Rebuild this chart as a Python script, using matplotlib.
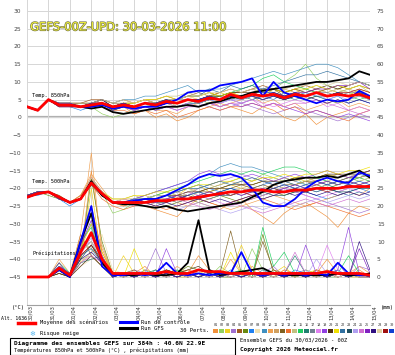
import matplotlib
matplotlib.use("Agg")
import matplotlib.pyplot as plt
import matplotlib.patheffects as pe
from matplotlib.patches import Rectangle
from matplotlib.lines import Line2D
from matplotlib.transforms import ScaledTranslation
import numpy as np

# echeances toutes les 12h sur 384h
hours = list(range(0, 385, 12))
dates = ["30/03", "31/03", "01/04", "02/04", "03/04", "04/04", "05/04", "06/04", "07/04",
         "08/04", "09/04", "10/04", "11/04", "12/04", "13/04", "14/04", "15/04"]

pert_colors = ["#f0903a", "#90d060", "#f0d020", "#a070d0", "#a05a20", "#6a8a10", "#2080f0", "#f0e0b0",
               "#4090c0", "#f0a050", "#d0a060", "#806020", "#f07030", "#c0c080", "#20d060", "#208070",
               "#708090", "#e080f0", "#9040e0", "#503010", "#f0e000", "#3070a0", "#205060", "#b0a0f0",
               "#d070d0", "#8020c0", "#301080", "#e0d0a0", "#a01010", "#1040d0"]

# temperature 850hPa
t850_mean = [3,2,5,3.5,3.5,3,3.5,4,3, 3.5,3,4,3.5,4.5,4,5,4.5, 5.5,5,6.5,5.5,6.5,6,6.5,5.5, 6.5,6,7,6,6.5,6,6.5,5.5]
t850_gfs = [3,2,5,3.5,3.5,3,2.5,3,1.5, 1,1.5,2,2.5,3,3,3.5,3, 4,4.5,5.5,6,7,7.5,8,8.5, 9,9.5,10,10,10.5,11,13,12]
t850_ctrl = [3,2,5,3.5,3.5,3,3,3.5,2.5, 3,2.5,3,3,4,5,7,7.5, 7.5,9,9.5,10,11,6,10,7, 6,5,4,5,4.5,5,7.5,6]
t850_perts = [
    [3,2,5,4,3,3,4,4,2, 3,1,2,0,1,-1,0,2, 3,4,3,2,1,3,2,0, -1,1,-2,0,1,2,3,2],
    [3,2,5,4,4,3,3,1,0, 1,2,3,4,5,3,4,5, 4,5,6,8,9,7,8,10, 12,15,11,9,8,7,6,5],
    [3,2,5,3,4,3,3,4,3, 4,4,5,4,5,5,6,5, 6,7,6,5,7,6,8,7, 8,6,7,8,7,6,8,7],
    [3,2,5,3,3,3,4,3,2, 3,2,3,3,4,4,5,4, 3,2,3,4,3,2,1,2, 3,2,1,0,-1,0,1,0],
    [3,2,5,4,4,4,5,5,4, 5,4,5,5,6,5,6,7, 6,7,8,7,8,9,8,7, 8,9,8,7,8,9,10,9],
    [3,2,5,3,3,3,3,4,3, 3,3,4,3,4,3,4,4, 5,5,6,5,6,5,6,5, 6,5,6,5,4,5,6,5],
    [3,2,5,3,3,2,3,3,2, 3,2,3,2,3,3,4,4, 5,4,5,4,5,6,5,7, 6,7,6,5,6,4,5,4],
    [3,2,5,4,4,3,4,4,3, 4,3,4,4,5,5,6,5, 6,5,6,6,7,6,7,6, 7,7,8,7,8,7,8,6],
    [3,2,5,4,4,3,4,5,4, 5,5,6,6,7,8,9,7, 8,8,9,10,11,12,13,12, 13,14,15,15,14,12,10,9],
    [3,2,5,4,3,3,3,4,2, 3,2,3,2,2,1,3,4, 5,3,4,5,6,4,5,3, 4,2,3,4,5,3,4,3],
    [3,2,5,3,4,3,4,4,3, 4,4,5,4,5,4,5,5, 6,6,7,6,7,7,6,8, 7,8,7,6,7,8,7,6],
    [3,2,5,4,4,4,4,5,4, 4,4,5,4,5,5,6,6, 7,6,7,7,8,7,8,6, 7,6,7,8,9,8,9,8],
    [3,2,5,3,3,3,3,3,2, 2,1,2,1,2,0,1,2, 3,2,3,3,4,3,4,2, 3,1,2,1,0,-1,1,2],
    [3,2,5,4,3,4,4,5,3, 4,4,5,5,6,6,7,6, 7,5,6,6,7,8,7,8, 9,8,9,8,7,8,9,7],
    [3,2,5,3,4,3,4,4,3, 4,3,4,4,5,4,5,5, 6,6,7,8,9,11,12,10, 9,8,7,6,7,6,5,6],
    [3,2,5,4,4,3,3,4,3, 3,3,4,3,4,4,5,4, 5,6,5,6,5,6,7,6, 5,6,7,6,7,6,7,6],
    [3,2,5,3,3,3,4,4,3, 4,3,4,4,4,5,5,5, 6,5,6,5,6,6,6,5, 6,6,7,7,6,7,7,6],
    [3,2,5,4,4,3,4,4,3, 3,2,3,3,4,3,4,3, 4,4,5,4,5,4,3,4, 5,4,5,3,4,2,3,2],
    [3,2,5,3,3,3,3,4,2, 3,2,3,2,3,2,3,3, 4,3,4,3,4,3,4,3, 2,1,2,1,0,1,0,-1],
    [3,2,5,4,4,4,4,5,3, 4,3,4,4,5,4,5,5, 6,6,7,7,7,8,8,7, 8,7,8,9,8,9,10,9],
    [3,2,5,4,4,3,4,4,3, 4,4,5,5,6,5,6,6, 7,6,7,6,7,7,8,7, 8,8,9,8,9,8,9,8],
    [3,2,5,3,4,3,4,4,3, 4,3,4,4,5,5,6,6, 8,7,9,8,9,8,9,10, 11,12,12,13,12,11,10,9],
    [3,2,5,4,3,3,3,4,2, 3,3,4,3,4,4,5,4, 5,5,6,5,6,5,6,5, 6,5,6,6,7,6,7,6],
    [3,2,5,3,3,3,4,4,3, 4,3,4,3,4,4,5,4, 5,4,5,5,6,5,6,6, 7,6,7,5,6,5,6,5],
    [3,2,5,4,4,3,4,4,3, 4,3,4,3,3,2,3,3, 4,3,4,4,5,3,4,3, 4,4,5,4,3,2,1,2],
    [3,2,5,3,3,3,4,4,3, 3,3,3,3,4,4,5,5, 6,5,6,6,7,6,7,6, 7,7,8,8,9,9,10,8],
    [3,2,5,4,4,3,4,5,3, 4,3,4,3,4,4,5,5, 6,5,6,6,6,5,6,5, 6,6,5,4,5,4,5,4],
    [3,2,5,4,4,4,4,5,4, 5,4,5,4,5,5,6,6, 7,7,8,7,8,7,8,8, 9,9,10,9,10,9,10,9],
    [3,2,5,3,3,3,4,4,3, 4,3,4,4,5,4,5,5, 5,5,6,6,7,6,7,6, 7,6,7,6,7,7,8,7],
    [3,2,5,4,4,3,4,4,3, 4,3,4,4,5,4,5,5, 6,5,6,6,7,7,7,6, 7,6,7,6,7,6,7,5],
]

# temperature 500hPa
t500_mean = [-22.5,-21.5,-21,-22.5,-24,-23,-18.5,-21.5,-24, -24,-24,-24,-23.5,-23.5,-23,-23,-22.5,
             -22,-21.5,-21,-21,-20.5,-20.5,-21,-21, -20.5,-20.5,-20,-20,-20,-19.5,-19.5,-19.5]
t500_gfs = [-22.5,-21.5,-21,-22.5,-24,-23,-18,-22,-24, -24.5,-24.5,-25,-25.5,-25,-26,-26.5,-26,
            -25.5,-25,-24.5,-24,-22.5,-21,-19,-18, -17.5,-17,-17,-16.5,-17,-16,-15,-17]
t500_ctrl = [-22.5,-21.5,-21,-22.5,-24,-23,-18.5,-21.5,-24, -24,-23.5,-23,-23,-22,-20.5,-19,-17,
             -16,-16.5,-16,-17,-20,-24,-25,-25, -23,-20,-18,-17,-18,-18.5,-15.5,-16.5]
t500_perts = [
    [-22,-21,-21,-23,-24,-22,-17,-22,-24, -25,-24,-25,-26,-27,-28,-25,-24, -25,-26,-24,-23,-26,-28,-30,-27, -25,-24,-26,-28,-31,-27,-25,-26],
    [-22,-21,-21,-22,-24,-23,-18,-21,-27, -26,-24,-24,-23,-24,-22,-23,-21, -20,-19,-18,-17,-18,-16,-17,-18, -17,-19,-18,-17,-16,-17,-18,-17],
    [-22,-21,-21,-23,-24,-23,-17,-21,-24, -24,-23,-23,-22,-21,-22,-20,-19, -21,-20,-19,-20,-19,-18,-19,-18, -17,-18,-17,-16,-17,-16,-15,-16],
    [-23,-21,-21,-23,-24,-23,-19,-22,-24, -24,-25,-24,-23,-22,-21,-22,-20, -19,-18,-17,-16,-17,-18,-19,-20, -21,-22,-23,-24,-25,-26,-27,-26],
    [-22,-21,-21,-22,-24,-22,-18,-21,-24, -23,-24,-23,-24,-23,-22,-23,-22, -21,-22,-21,-20,-21,-20,-19,-20, -19,-18,-19,-18,-19,-18,-17,-16],
    [-22,-21,-22,-23,-24,-23,-19,-22,-24, -24,-24,-23,-24,-25,-24,-23,-24, -23,-22,-23,-24,-23,-22,-21,-22, -21,-20,-19,-20,-19,-18,-19,-18],
    [-22,-22,-21,-23,-25,-23,-18,-22,-24, -24,-23,-24,-23,-22,-21,-20,-19, -20,-21,-22,-21,-20,-19,-18,-19, -20,-21,-22,-23,-22,-21,-20,-21],
    [-22,-21,-21,-23,-24,-23,-17,-21,-23, -23,-24,-23,-22,-23,-22,-21,-22, -21,-20,-21,-20,-19,-20,-19,-20, -21,-20,-19,-18,-19,-18,-17,-18],
    [-22,-21,-21,-23,-24,-23,-18,-21,-24, -24,-23,-22,-21,-20,-19,-18,-17, -16,-14,-13,-14,-14,-15,-16,-17, -18,-19,-20,-19,-18,-17,-16,-17],
    [-22,-21,-21,-23,-24,-22,-16,-20,-24, -25,-24,-25,-24,-23,-24,-25,-23, -24,-25,-26,-25,-24,-23,-22,-23, -24,-25,-24,-23,-22,-21,-22,-20],
    [-22,-21,-21,-23,-24,-23,-17,-22,-24, -23,-23,-22,-23,-22,-21,-20,-21, -20,-19,-18,-19,-18,-17,-18,-17, -18,-17,-18,-17,-16,-17,-16,-15],
    [-22,-21,-21,-23,-24,-23,-18,-22,-24, -24,-24,-24,-23,-23,-22,-22,-21, -21,-20,-20,-19,-20,-19,-20,-19, -19,-18,-18,-19,-18,-17,-17,-16],
    [-22,-21,-21,-23,-24,-23,-19,-23,-25, -26,-25,-24,-25,-26,-25,-24,-23, -24,-25,-24,-23,-22,-23,-24,-25, -26,-25,-24,-25,-26,-27,-28,-27],
    [-22,-21,-21,-23,-24,-23,-18,-21,-23, -23,-22,-23,-22,-21,-22,-21,-20, -19,-20,-19,-18,-19,-18,-17,-18, -19,-18,-17,-18,-17,-16,-17,-16],
    [-22,-21,-21,-23,-24,-23,-18,-22,-24, -24,-23,-23,-22,-21,-20,-19,-18, -17,-16,-15,-16,-15,-16,-15,-14, -14,-15,-17,-18,-19,-18,-17,-18],
    [-22,-21,-21,-23,-24,-23,-19,-22,-24, -24,-24,-23,-23,-22,-23,-22,-21, -22,-21,-20,-21,-20,-21,-20,-21, -20,-21,-20,-19,-20,-19,-20,-19],
    [-22,-21,-21,-23,-24,-23,-18,-22,-24, -24,-24,-24,-24,-23,-24,-23,-22, -23,-22,-21,-22,-21,-22,-21,-20, -21,-20,-21,-20,-21,-20,-19,-20],
    [-22,-21,-21,-23,-24,-23,-18,-22,-24, -23,-24,-23,-24,-23,-22,-21,-22, -23,-24,-25,-24,-23,-22,-21,-20, -21,-22,-23,-22,-21,-20,-21,-22],
    [-22,-21,-21,-23,-24,-23,-17,-21,-24, -24,-23,-22,-21,-20,-19,-18,-16, -15,-16,-16,-17,-16,-17,-18,-17, -16,-17,-16,-15,-16,-17,-16,-15],
    [-22,-21,-21,-23,-24,-23,-18,-22,-24, -24,-24,-23,-23,-22,-22,-21,-21, -20,-20,-19,-19,-19,-18,-18,-18, -17,-17,-17,-16,-16,-16,-16,-15],
    [-22,-21,-21,-23,-24,-23,-17,-21,-23, -23,-22,-22,-21,-21,-20,-20,-19, -19,-18,-18,-17,-18,-17,-17,-16, -17,-16,-16,-15,-16,-15,-15,-14],
    [-22,-21,-21,-23,-24,-23,-18,-22,-24, -24,-23,-23,-22,-22,-21,-20,-20, -19,-18,-19,-18,-17,-18,-19,-18, -19,-20,-21,-20,-21,-22,-21,-22],
    [-22,-21,-21,-23,-24,-23,-18,-22,-24, -24,-24,-24,-24,-24,-23,-23,-23, -22,-22,-22,-21,-21,-21,-22,-22, -21,-21,-20,-20,-21,-21,-20,-20],
    [-22,-21,-21,-23,-24,-23,-18,-22,-24, -24,-24,-25,-24,-25,-26,-25,-24, -25,-26,-27,-26,-25,-26,-25,-24, -25,-24,-23,-24,-23,-22,-23,-22],
    [-22,-21,-21,-23,-24,-23,-17,-21,-24, -24,-23,-24,-23,-24,-23,-24,-25, -26,-25,-24,-25,-26,-27,-26,-25, -24,-23,-24,-25,-24,-23,-24,-23],
    [-22,-21,-21,-23,-24,-23,-18,-22,-24, -24,-24,-23,-24,-23,-22,-23,-22, -21,-22,-21,-22,-21,-20,-21,-20, -19,-20,-19,-18,-19,-18,-19,-18],
    [-22,-21,-21,-23,-24,-23,-18,-22,-24, -24,-24,-24,-25,-24,-25,-24,-23, -24,-23,-24,-23,-22,-23,-22,-21, -22,-21,-22,-21,-22,-21,-22,-21],
    [-22,-21,-21,-23,-24,-23,-17,-21,-24, -23,-23,-23,-22,-22,-21,-22,-21, -22,-21,-22,-21,-20,-21,-20,-19, -20,-19,-20,-19,-18,-19,-18,-17],
    [-22,-21,-21,-23,-24,-23,-18,-22,-24, -24,-24,-24,-23,-24,-23,-22,-23, -22,-21,-22,-21,-22,-21,-20,-21, -20,-21,-20,-21,-20,-19,-20,-19],
    [-22,-21,-21,-23,-24,-23,-18,-22,-24, -24,-23,-24,-23,-22,-23,-22,-21, -22,-21,-20,-21,-20,-21,-20,-19, -20,-19,-18,-19,-18,-19,-18,-19],
]

# precipitations (mm), echelle de droite
precip_mean = [0,0,0,2.5,0.5,7,12.5,5,1, 1,1,1,1,1.5,1,1,2, 1.5,1.5,1,1,1,1,1,1, 1,1,1,1.5,1,1,1,0.5]
precip_gfs = [0,0,0,2,0,10,18,4,1, 0.5,0.5,1,0.5,0.5,1,4,16, 2,0.5,1,1.5,2,2.5,1,0.5, 0.5,0.5,0.5,0.5,1,0.5,0.5,1]
precip_ctrl = [0,0,0,2,0,10,20,3,0.5, 0.5,1,0.5,1,4,1,0.5,1, 0.5,1,1,7,1,0.5,1,0.5, 1,0.5,1,0.5,4,1,0.5,0.5]
precip_perts = [
    [0,0,0,2,0,6,30,8,1, 0,1,3,0,1,0,1,6, 2,0,1,0,3,1,0,2, 1,0,1,5,1,0,2,0],
    [0,0,0,3,1,10,8,5,0, 1,0,2,1,0,2,0,1, 0,3,1,0,8,2,0,1, 0,2,1,0,0,1,0,1],
    [0,0,0,4,0,4,25,4,0, 6,1,0,2,1,0,0,1, 2,0,1,9,2,0,1,3, 0,1,2,0,1,0,0,1],
    [0,0,0,2,1,8,10,6,1, 0,2,1,8,1,0,1,0, 1,2,0,1,0,1,3,0, 1,2,0,1,4,0,3,2],
    [0,0,0,1,0,12,6,3,0, 1,0,1,0,2,1,0,2, 1,0,1,0,1,0,2,1, 0,1,0,2,0,1,0,0],
    [0,0,0,2,0,5,28,10,1, 0,1,0,1,0,1,3,2, 1,0,0,1,0,12,1,0, 1,0,2,1,0,1,1,0],
    [0,0,0,3,1,7,12,4,0, 1,0,2,0,1,0,1,0, 1,0,2,0,1,0,1,0, 2,1,0,1,2,0,1,0],
    [0,0,0,2,0,3,5,12,2, 1,0,1,0,1,0,2,1, 0,1,0,2,1,0,1,0, 1,0,1,0,1,0,1,0],
    [0,0,0,3,0,9,15,5,1, 0,1,0,2,0,1,0,1, 0,1,0,1,0,2,1,0, 1,0,1,0,2,0,1,0],
    [0,0,0,5,1,12,35,6,0, 1,0,2,1,0,3,1,0, 1,0,5,1,0,1,0,2, 1,0,1,2,0,1,3,1],
    [0,0,0,2,0,4,7,9,1, 0,1,1,0,1,0,1,0, 2,1,0,1,0,1,0,1, 0,1,0,1,0,1,0,0],
    [0,0,0,1,0,6,9,4,0, 1,2,0,1,2,1,0,1, 0,1,13,1,0,10,2,0, 1,0,1,0,1,0,1,0],
    [0,0,0,3,1,8,20,7,1, 0,1,0,1,0,1,2,1, 0,1,0,1,2,0,1,0, 1,0,2,1,0,1,0,1],
    [0,0,0,2,0,5,6,3,0, 1,0,1,0,1,0,1,0, 1,0,1,0,1,0,1,0, 1,0,1,0,1,0,1,0],
    [0,0,0,4,1,10,14,5,1, 0,1,0,1,0,2,1,0, 1,0,1,2,0,14,3,7, 1,0,1,0,1,6,1,0],
    [0,0,0,2,0,4,5,6,0, 1,0,1,2,0,1,0,1, 0,1,0,1,0,1,0,1, 6,1,0,1,0,1,0,1],
    [0,0,0,3,1,7,10,4,0, 1,0,1,0,1,0,1,0, 1,0,1,0,1,0,1,0, 1,0,1,0,1,0,1,0],
    [0,0,0,2,0,6,12,5,1, 0,1,0,1,0,1,0,2, 1,0,1,0,1,0,1,0, 1,0,1,9,2,0,1,0],
    [0,0,0,3,0,9,18,6,0, 1,0,1,0,8,1,0,1, 0,1,0,1,0,1,0,1, 0,9,1,0,2,14,1,0],
    [0,0,0,1,0,3,6,3,0, 1,0,1,0,2,1,2,3, 1,0,1,0,1,0,1,0, 1,0,1,0,1,0,1,0],
    [0,0,0,2,1,8,15,7,1, 0,8,1,0,1,0,1,0, 1,0,7,1,0,1,0,1, 0,1,0,1,0,1,0,1],
    [0,0,0,3,0,6,8,4,0, 1,0,1,0,1,0,1,0, 1,0,1,0,1,0,1,0, 1,0,1,0,1,0,1,0],
    [0,0,0,2,0,5,9,5,1, 0,1,0,1,0,1,0,1, 0,1,0,1,0,1,0,1, 0,1,0,1,0,1,0,0],
    [0,0,0,3,1,7,11,6,0, 1,0,1,0,1,0,1,0, 1,0,1,0,1,0,1,0, 1,0,5,1,0,1,0,1],
    [0,0,0,2,0,4,6,4,1, 0,1,0,1,0,1,0,1, 0,1,0,1,0,1,0,1, 7,1,0,1,0,1,0,0],
    [0,0,0,4,0,9,16,5,0, 1,0,1,0,1,0,1,0, 1,0,1,0,1,0,1,0, 1,0,1,0,1,0,8,1],
    [0,0,0,2,1,5,7,4,0, 1,0,1,0,1,0,1,0, 1,0,1,0,1,0,1,0, 1,0,1,0,1,0,10,2],
    [0,0,0,3,0,7,10,5,1, 0,1,0,1,0,1,0,1, 0,1,0,1,0,1,0,1, 0,1,0,1,0,1,0,0],
    [0,0,0,2,0,6,9,4,0, 1,0,1,0,1,0,1,0, 1,0,1,0,1,0,1,0, 1,0,1,0,1,0,1,0],
    [0,0,0,3,1,8,12,5,0, 1,0,1,0,1,0,1,0, 1,0,1,0,1,0,1,0, 1,0,1,0,1,0,1,0],
]
precip_offset = 45  # l'axe de droite = axe de gauche + 45

mono = "DejaVu Sans Mono"
W, H = 395, 355


def ftext(x, y, s, **kw):
    fig.text(x / W, 1 - y / H, s, **kw)


fig = plt.figure(figsize=(3.95, 3.55), dpi=100)
ax = fig.add_axes([27 / W, 50 / H, 343 / W, 305 / H])
ax.set_xlim(0, 384)
ax.set_ylim(-52.9, 33.1)

for i in range(30):
    c = pert_colors[i]
    ax.plot(hours, t850_perts[i], color=c, lw=0.45)
    ax.plot(hours, t500_perts[i], color=c, lw=0.45)
    ax.plot(hours, np.array(precip_perts[i]) - precip_offset, color=c, lw=0.45)

ax.plot(hours, t850_gfs, color="black", lw=1.3)
ax.plot(hours, t500_gfs, color="black", lw=1.3)
ax.plot(hours, np.array(precip_gfs) - precip_offset, color="black", lw=1.3)
ax.plot(hours, t850_ctrl, color="#0000ff", lw=1.3)
ax.plot(hours, t500_ctrl, color="#0000ff", lw=1.3)
ax.plot(hours, np.array(precip_ctrl) - precip_offset, color="#0000ff", lw=1.3)
ax.plot(hours, t850_mean, color="#ff0000", lw=2)
ax.plot(hours, t500_mean, color="#ff0000", lw=2)
ax.plot(hours, np.array(precip_mean) - precip_offset, color="#ff0000", lw=2)

ax.set_xticks(range(0, 385, 24))
ax.set_xticklabels(dates, rotation=90, fontsize=3.7, color="#333333")
ax.set_yticks(range(-45, 31, 5))
ax.tick_params(axis="x", length=0, pad=0)
ax.tick_params(axis="y", length=0, pad=4.3, labelsize=4.3, labelcolor="#444444")
ax.grid(color="#d6d6d6", lw=0.7)
ax.set_axisbelow(True)
ax.axhline(0, color="#b0b0b0", lw=1.6, zorder=0.5)
for s in ["top", "left", "right"]:
    ax.spines[s].set_visible(False)
ax.spines["bottom"].set_color("#a0a0a0")
ax.spines["bottom"].set_linewidth(0.8)
shift = ScaledTranslation(4 / 100, 0, fig.dpi_scale_trans)
for lab in ax.get_xticklabels():
    lab.set_transform(lab.get_transform() + shift)

sec = ax.secondary_yaxis("right", functions=(lambda v: v + precip_offset, lambda v: v - precip_offset))
sec.set_yticks(range(0, 76, 5))
sec.tick_params(length=0, pad=5, labelsize=4.3, labelcolor="#444444")
sec.spines["right"].set_visible(False)

ax.text(3.5, 25.5, "GEFS-00Z-UPD: 30-03-2026 11:00", fontsize=8.3, va="center",
        family="DejaVu Sans", color="#f0f03a",
        path_effects=[pe.withStroke(linewidth=0.9, foreground="#707048")])
ax.text(5.6, 6.2, "Temp. 850hPa", fontsize=3.8, family=mono, va="center")
ax.text(5.6, -18.1, "Temp. 500hPa", fontsize=3.8, family=mono, va="center")
ax.text(5.6, -38.2, "Précipitations", fontsize=3.7, family=mono, va="center")

# legende du bas
ftext(12, 307, "(°C)", fontsize=3.9, family=mono, va="center")
ftext(381, 307, "(mm)", fontsize=3.9, family=mono, va="center")
ftext(1, 318, "Alt. 1636", fontsize=3.5, family=mono, va="center")

fig.add_artist(Line2D([18 / W, 35 / W], [1 - 322.5 / H] * 2, color="#ff0000", lw=2.5))
ftext(40, 322.5, "Moyenne des scénarios", fontsize=3.9, family=mono, va="center")
fig.add_artist(Line2D([120 / W, 137 / W], [1 - 322 / H] * 2, color="#0000ff", lw=2.2))
ftext(141, 322.5, "Run de contrôle", fontsize=3.9, family=mono, va="center")
fig.add_artist(Line2D([120 / W, 137 / W], [1 - 328 / H] * 2, color="black", lw=2.2))
ftext(141, 328, "Run GFS", fontsize=3.9, family=mono, va="center")
ftext(32, 334, "❄", fontsize=5, color="#5ab8f0", ha="center", va="center")
ftext(40, 334, "Risque neige", fontsize=3.9, family=mono, va="center")
ftext(180, 330.5, "30 Perts.", fontsize=3.9, family=mono, va="center")

for i in range(30):
    x0 = 213 + i * 6.07
    fig.add_artist(Rectangle((x0 / W, 1 - 333 / H), 5 / W, 4 / H, fc=pert_colors[i], ec="none",
                             transform=fig.transFigure))
    ftext(x0 + 2.5, 325.5, f"{i + 1:02d}", fontsize=2.6, family=mono, ha="center", va="center",
          color="#333333")

fig.add_artist(Rectangle((10 / W, 1 - 354.5 / H), 225 / W, 16.5 / H, fill=False, ec="black", lw=0.8,
                         transform=fig.transFigure))
ftext(14, 343, "Diagramme des ensembles GEFS sur 384h : 40.6N 22.9E", fontsize=4.45, family=mono,
      weight="bold", va="center")
ftext(14, 350, "Températures 850hPa et 500hPa (°C) , précipitations (mm)", fontsize=3.8, family=mono,
      va="center")
ftext(240, 340, "Ensemble GEFS du 30/03/2026 - 00Z", fontsize=3.85, family=mono, va="center")
ftext(240, 350, "Copyright 2026 Meteociel.fr", fontsize=4.3, family=mono, weight="bold", va="center")

fig.savefig("out.png", dpi=100)
